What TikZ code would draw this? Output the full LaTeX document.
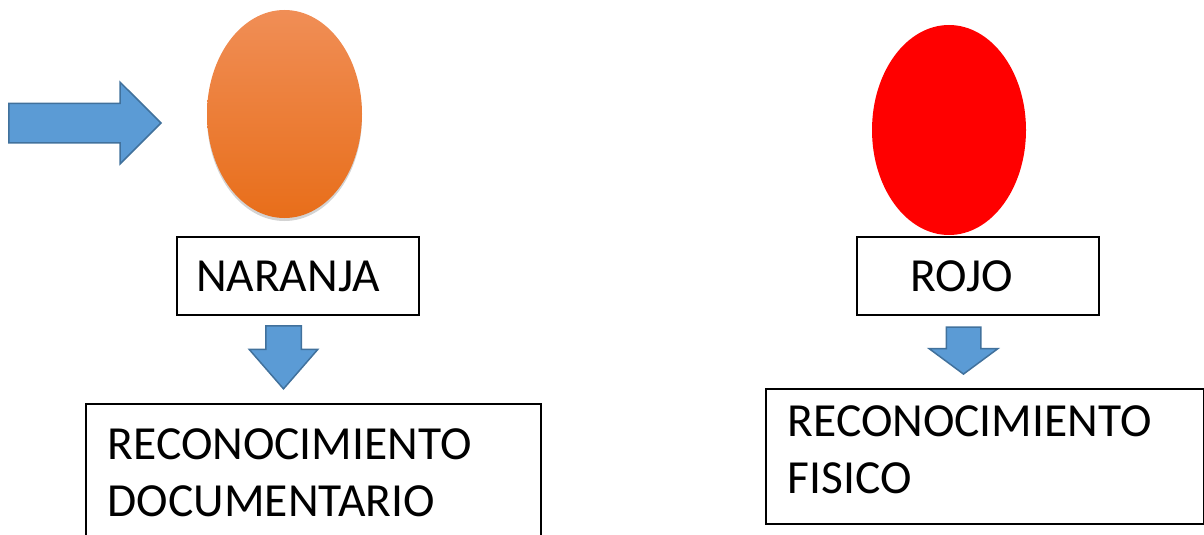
\documentclass[tikz,border=0pt]{standalone}
\usepackage{fontspec}
\setmainfont{Carlito}
\usetikzlibrary{shapes.geometric,shapes.arrows,shadows}
\definecolor{arrowblue}{RGB}{91,155,213}
\definecolor{arrowedge}{RGB}{65,113,156}
\definecolor{orangetop}{RGB}{240,142,86}
\definecolor{orangemid}{RGB}{243,128,45}
\definecolor{orangebot}{RGB}{232,110,26}

\begin{document}
\begin{tikzpicture}[x=1pt,y=-1pt,
  box/.style={draw,line width=1.5pt,inner sep=0pt,align=left,font=\fontsize{47.5}{57}\selectfont},
  egg/.style={ellipse,inner sep=0pt},
  blockarrow/.style={single arrow,anchor=tip,fill=arrowblue,draw=arrowedge,line width=1.5pt,inner xsep=0pt}]
\clip (0,0) rectangle (1204,535);
%Drawing the two lights
\node[egg,minimum width=155,minimum height=208,top color=orangetop,middle color=orangemid,bottom color=orangebot,
  drop shadow={opacity=0.35,shadow xshift=0pt,shadow yshift=-3pt}] (orange) at (284.5,114) {};
\node[egg,minimum width=154,minimum height=210,fill=red] (red) at (949,130) {};
%Labels
\node[box,minimum width=242,minimum height=78,text width=204] (naranja) at (298,276) {NARANJA};
\node[box,minimum width=242,minimum height=78,text width=136] (rojo) at (978,276) {ROJO};
\node[box,anchor=north west,inner xsep=22pt,inner ysep=24.5pt,text width=411] (docum) at (85,403) {RECONOCIMIENTO\\DOCUMENTARIO};
\node[box,anchor=north west,inner xsep=22pt,text width=394,minimum height=135] (fisico) at (765,388) {RECONOCIMIENTO\\FISICO\rule[-13pt]{0pt}{0pt}};
%Drawing arrows
\node[blockarrow,minimum height=152,inner ysep=19pt,minimum width=80,single arrow head extend=21pt] (inarrow) at (162,123) {};
\node[blockarrow,rotate=-90,minimum height=63,inner ysep=17pt,minimum width=67,single arrow head extend=16.5pt,single arrow tip angle=82] (downleft) at (283.5,390) {};
\node[blockarrow,rotate=-90,minimum height=47,inner ysep=16.5pt,minimum width=67,single arrow head extend=17pt,single arrow tip angle=107] (downright) at (963.5,375) {};
\end{tikzpicture}
\end{document}
